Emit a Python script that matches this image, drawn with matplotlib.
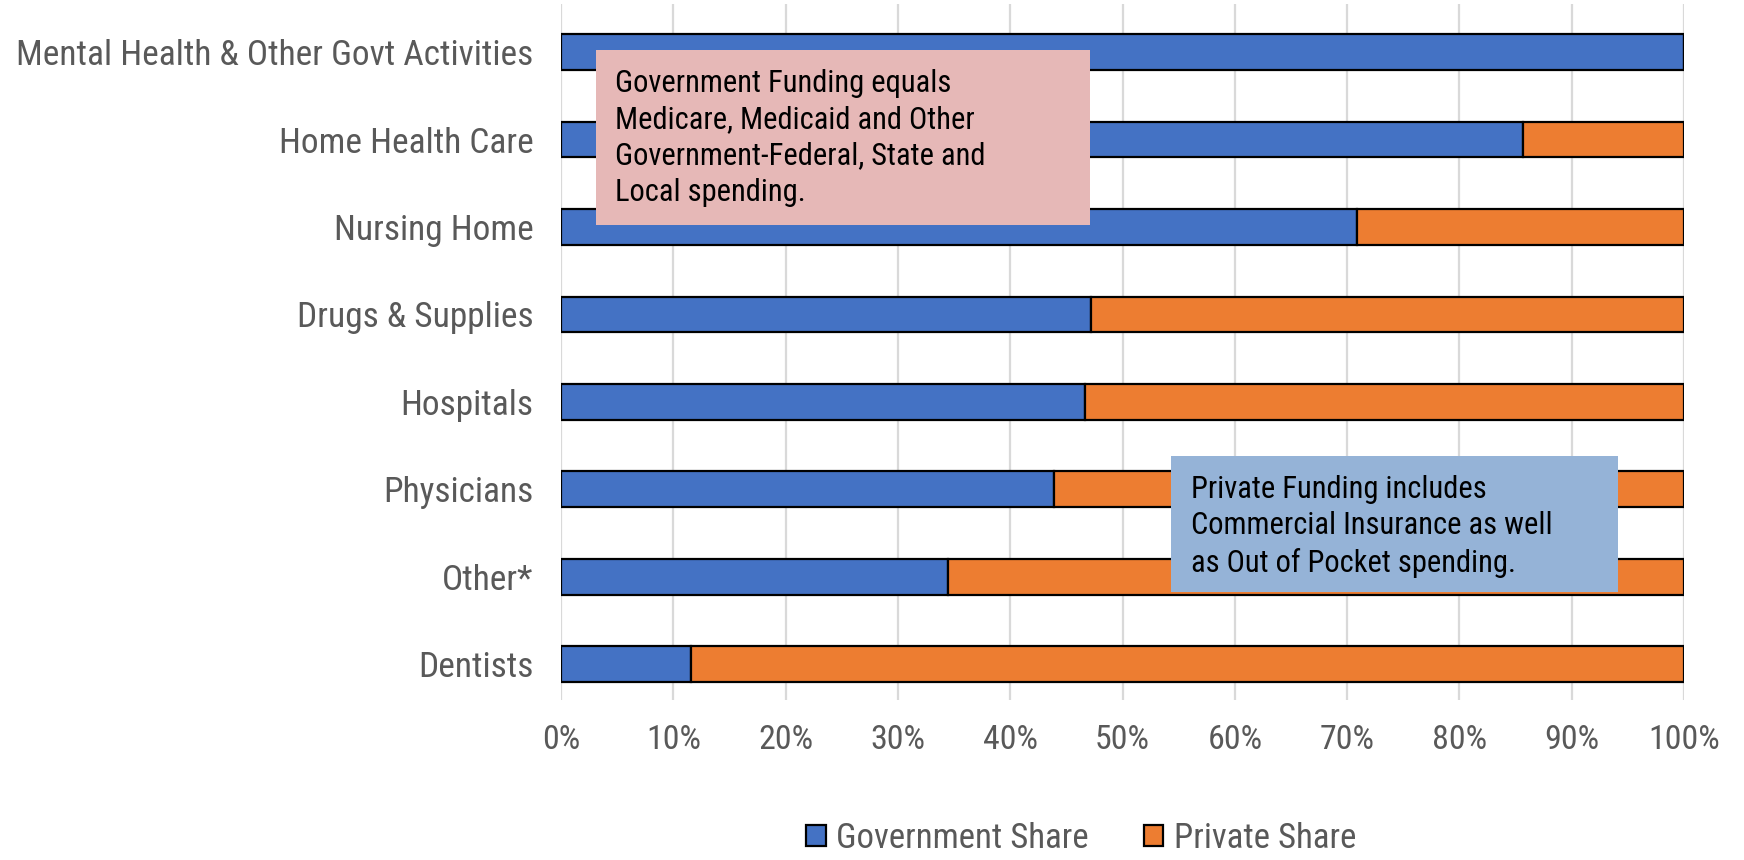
import numpy as np
import matplotlib.pyplot as plt
from matplotlib.patches import Rectangle
from matplotlib.ticker import PercentFormatter

plt.rcParams['font.family'] = ['Roboto Condensed', 'Archivo Narrow', 'Liberation Sans Narrow', 'DejaVu Sans']

categories = ['Mental Health & Other Govt Activities', 'Home Health Care', 'Nursing Home',
              'Drugs & Supplies', 'Hospitals', 'Physicians', 'Other*', 'Dentists']
gov_share = [100.0, 85.7, 70.9, 47.2, 46.7, 43.9, 34.5, 11.6]
private_share = [100 - g for g in gov_share]

gov_note = ('Government Funding equals\nMedicare, Medicaid and Other\n'
            'Government-Federal, State and\nLocal spending.')
private_note = 'Private Funding includes\nCommercial Insurance as well\nas Out of Pocket spending.'

blue = '#4472C4'
orange = '#ED7D31'
grey = '#595959'

fig = plt.figure(figsize=(17.44, 8.6), dpi=100)
ax = fig.add_axes([0.3217, 0.186, 0.6439, 0.8093])

y = np.arange(len(categories))
ax.barh(y, gov_share, height=0.41, color=blue, edgecolor='black', linewidth=1.6,
        label='Government Share', zorder=3)
ax.barh(y, private_share, left=gov_share, height=0.41, color=orange, edgecolor='black',
        linewidth=1.6, label='Private Share', zorder=3)

ax.set_xlim(0, 100)
ax.set_ylim(7.41, -0.55)
ax.set_yticks(y)
ax.set_yticklabels(categories, fontsize=25.5, color=grey)
ax.set_xticks(np.arange(0, 101, 10))
ax.xaxis.set_major_formatter(PercentFormatter(decimals=0))
ax.tick_params(axis='x', labelsize=24.5, labelcolor=grey, length=0, pad=17)
ax.tick_params(axis='y', length=0, pad=20)
ax.grid(axis='x', color='#D9D9D9', linewidth=1.6, zorder=0)
for s in ax.spines.values():
    s.set_visible(False)

# annotation boxes
ax.add_patch(Rectangle((3.1, -0.024), 44.0, 2.004, facecolor='#E6B8B7', edgecolor='none', zorder=4))
ax.text(4.8, 0.98, gov_note, fontsize=22, color='black', va='center', ha='left',
        linespacing=1.32, zorder=5)
ax.add_patch(Rectangle((54.3, 4.62), 39.8, 1.56, facecolor='#95B3D7', edgecolor='none', zorder=4))
ax.text(56.1, 5.42, private_note, fontsize=22, color='black', va='center', ha='left',
        linespacing=1.32, zorder=5)

fig.legend(loc='lower center', bbox_to_anchor=(0.62, -0.03), ncol=2, frameon=False,
           fontsize=25, labelcolor=grey, handlelength=0.55, handleheight=0.55,
           handletextpad=0.3, columnspacing=1.6)

fig.savefig('out.png', dpi=100)
